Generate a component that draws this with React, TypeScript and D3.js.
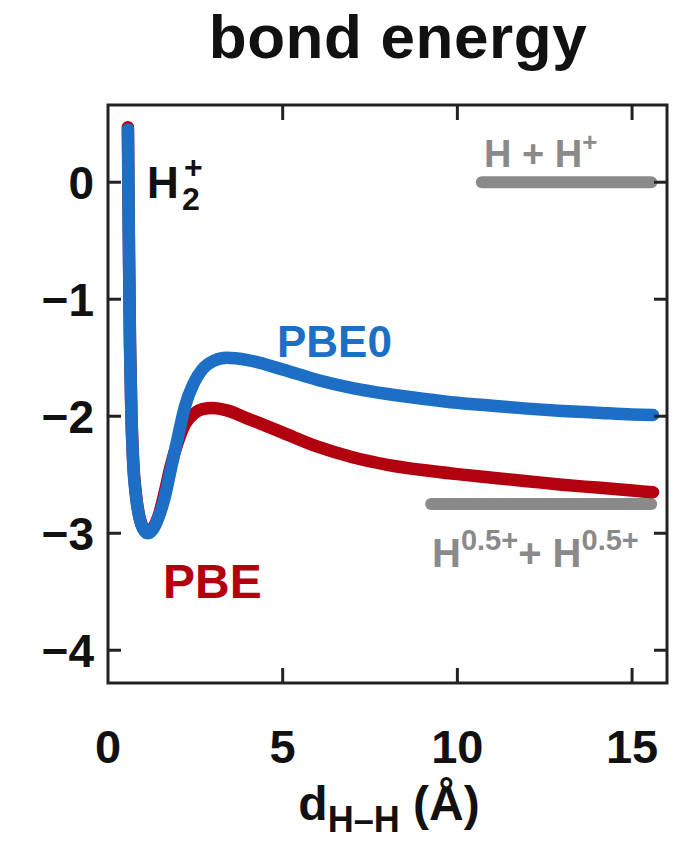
import React from "react";
import * as d3 from "d3";

const distances = [0.57, 0.6, 0.63, 0.67, 0.72, 0.8, 0.9, 1.0, 1.14, 1.3, 1.45, 1.6, 1.8, 2.0, 2.2, 2.45, 2.7, 3.0, 3.4, 4, 5, 6, 7, 8, 9, 10, 11, 12, 13, 14, 15, 15.6];
const pbe0 = [0.45, -0.6, -1.4, -2.0, -2.4, -2.68, -2.87, -2.96, -3.0, -2.96, -2.86, -2.72, -2.45, -2.18, -1.92, -1.72, -1.6, -1.53, -1.5, -1.52, -1.6, -1.69, -1.76, -1.81, -1.85, -1.885, -1.91, -1.935, -1.955, -1.97, -1.985, -1.99];
const pbe = [0.47, -0.58, -1.38, -1.98, -2.38, -2.67, -2.86, -2.95, -2.99, -2.95, -2.85, -2.68, -2.42, -2.22, -2.07, -1.98, -1.94, -1.93, -1.95, -2.02, -2.14, -2.26, -2.35, -2.415, -2.46, -2.495, -2.525, -2.555, -2.585, -2.61, -2.635, -2.65];
const limitIonic = { x0: 10.7, x1: 15.55, y: 0 };
const limitFrac = { x0: 9.25, x1: 15.55, y: -2.75 };
const xTicks = [0, 5, 10, 15];
const yTicks = [0, -1, -2, -3, -4];

const W = 677, H = 841;
const L = 108, R = 667, T = 105, B = 683;
const BLUE = "#1c6fc4";
const RED = "#b3000f";
const GRAY = "#8a8a8a";
const FONT = "'Liberation Sans', Arial, Helvetica, sans-serif";

export default function App() {
  const x = d3.scaleLinear().domain([0, 16]).range([L, R]);
  const y = d3.scaleLinear().domain([-4.28, 0.66]).range([B, T]);
  const line = d3
    .line<number>()
    .x((_, i) => x(distances[i]))
    .y((d) => y(d))
    .curve(d3.curveMonotoneX);

  return (
    <svg width={W} height={H} style={{ position: "absolute", left: 0, top: 0, background: "#fff" }} fontFamily={FONT} fontWeight="bold">
      <text x={398} y={58} fontSize={62} textAnchor="middle" fill="#111" letterSpacing={0.6}>bond energy</text>

      {/* limits */}
      <line x1={x(limitIonic.x0)} x2={x(limitIonic.x1)} y1={y(limitIonic.y)} y2={y(limitIonic.y)} stroke={GRAY} strokeWidth={12} strokeLinecap="round" />
      <line x1={x(limitFrac.x0)} x2={x(limitFrac.x1)} y1={y(limitFrac.y)} y2={y(limitFrac.y)} stroke={GRAY} strokeWidth={12} strokeLinecap="round" />

      {/* curves */}
      <path d={line(pbe) || ""} fill="none" stroke={RED} strokeWidth={12.5} strokeLinecap="round" strokeLinejoin="round" />
      <path d={line(pbe0) || ""} fill="none" stroke={BLUE} strokeWidth={12.5} strokeLinecap="round" strokeLinejoin="round" />

      {/* frame */}
      <rect x={L} y={T} width={R - L} height={B - T} fill="none" stroke="#222" strokeWidth={3} />
      {yTicks.map((t) => (
        <g key={"y" + t}>
          <line x1={L} x2={L + 13} y1={y(t)} y2={y(t)} stroke="#222" strokeWidth={3} />
          <line x1={R} x2={R - 13} y1={y(t)} y2={y(t)} stroke="#222" strokeWidth={3} />
          <text x={94} y={y(t)} dy="0.36em" fontSize={46} textAnchor="end" fill="#111">
            {t < 0 ? "\u2212" + Math.abs(t) : t}
          </text>
        </g>
      ))}
      {xTicks.map((t) => (
        <g key={"x" + t}>
          {t > 0 && <line x1={x(t)} x2={x(t)} y1={B} y2={B - 15} stroke="#222" strokeWidth={3} />}
          {t > 0 && <line x1={x(t)} x2={x(t)} y1={T} y2={T + 15} stroke="#222" strokeWidth={3} />}
          <text x={x(t)} y={763} fontSize={47} textAnchor="middle" fill="#111">{t}</text>
        </g>
      ))}

      {/* axis title */}
      <text x={389} y={820} fontSize={48} textAnchor="middle" fill="#111">
        d<tspan fontSize={36} dy={12}>H–H</tspan><tspan dy={-12}> (Å)</tspan>
      </text>

      {/* labels */}
      <text x={147} y={198} fontSize={44} fill="#111">H</text>
      <text x={182} y={210} fontSize={32} fill="#111">2</text>
      <text x={184} y={178} fontSize={32} fill="#111">+</text>
      <text x={277} y={357} fontSize={44} fill={BLUE}>PBE0</text>
      <text x={163} y={598} fontSize={48} fill={RED}>PBE</text>
      <text x={484} y={167} fontSize={38} fill={GRAY}>
        H + H<tspan fontSize={26} dy={-16}>+</tspan>
      </text>
      <text x={432} y={567} fontSize={40} fill={GRAY}>
        H<tspan fontSize={29} dy={-17}>0.5+</tspan><tspan dy={17}>+ H</tspan><tspan fontSize={29} dy={-17}>0.5+</tspan>
      </text>
    </svg>
  );
}
